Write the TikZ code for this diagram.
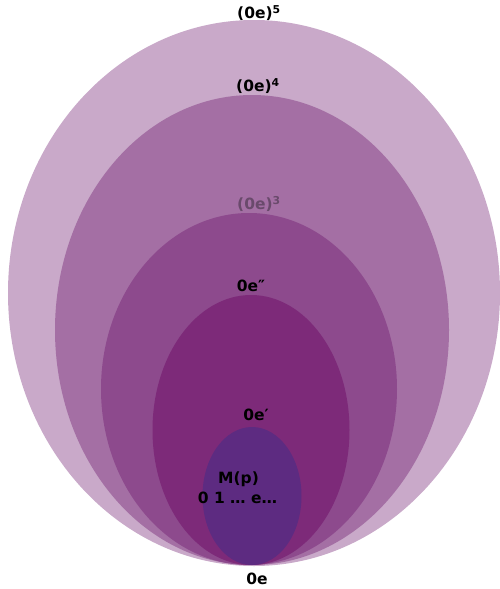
\documentclass[tikz,border=0pt]{standalone}
\usepackage{fontspec}
\setmainfont{DejaVu Sans}
\usetikzlibrary{shapes.geometric}
\definecolor{cA}{HTML}{C9A9C9}
\definecolor{cB}{HTML}{A46FA4}
\definecolor{cC}{HTML}{8D4A8D}
\definecolor{cD}{HTML}{7D2A79}
\definecolor{cE}{HTML}{5D2B81}
\definecolor{cLbl}{HTML}{6A4A6C}
\tikzset{
  ell/.style={ellipse, draw=none, inner sep=0pt},
  lbl/.style={font=\bfseries\fontsize{15.5}{17}\selectfont, text=black, inner sep=0pt, anchor=center}
}
\begin{document}
\begin{tikzpicture}[x=1pt,y=-1pt]
\useasboundingbox (0,0) rectangle (500,589);
\node[ell, fill=cA, minimum width=492pt, minimum height=546pt] (e5) at (254,293) {};
\node[ell, fill=cB, minimum width=394pt, minimum height=470pt] (e4) at (252,330) {};
\node[ell, fill=cC, minimum width=296pt, minimum height=352pt] (e3) at (249,389) {};
\node[ell, fill=cD, minimum width=197pt, minimum height=270pt] (e2) at (251,430) {};
\node[ell, fill=cE, minimum width=99pt, minimum height=138pt] (e1) at (252,496) {};
\node[lbl] (l5) at (259,13) {(0e)\textsuperscript{5}};
\node[lbl] (l4) at (258,86) {(0e)\textsuperscript{4}};
\node[lbl, text=cLbl] (l3) at (259,204) {(0e)\textsuperscript{3}};
\node[lbl] (l2) at (251,286) {0e″};
\node[lbl] (l1) at (256,415) {0e′};
\node[lbl] (mp) at (238.5,479) {M(p)};
\node[lbl] (seq) at (237.5,498) {0 1 … e…};
\node[lbl] (l0) at (257,579) {0e};
\end{tikzpicture}
\end{document}
